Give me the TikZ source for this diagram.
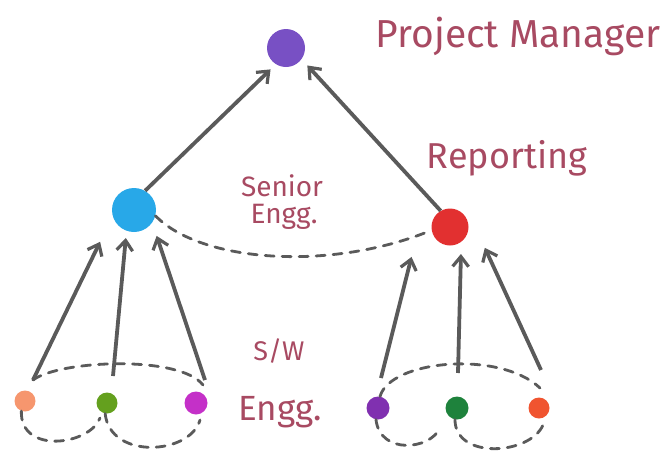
\documentclass[tikz,border=0pt]{standalone}
\usepackage{fontspec}
\setmainfont{Fira Sans}
\usetikzlibrary{arrows.meta}
\definecolor{txt}{HTML}{A84A62}
\definecolor{ln}{HTML}{5A5A5A}
\tikzset{
  dot/.style={circle, inner sep=0pt, minimum size=#1},
  arr/.style={ln, line width=3.8pt, -{Straight Barb[length=10pt,width=16pt,line width=3.2pt]}, shorten >=2pt},
  dsh/.style={ln, line width=2.8pt, dash pattern=on 9pt off 8pt, line cap=round},
  lbl/.style={txt, font=\fontsize{#1}{#1}\selectfont, inner sep=0pt}
}
\begin{document}
\begin{tikzpicture}[x=1pt,y=-1pt]
\useasboundingbox (0,0) rectangle (667,461);
% dots
\node[dot=38pt, fill={rgb,255:red,120;green,80;blue,196}] (pm) at (286,48) {};
\node[dot=44pt, fill={rgb,255:red,40;green,168;blue,232}] (se) at (134,210) {};
\node[dot=37pt, fill={rgb,255:red,226;green,48;blue,48}] (rp) at (450,227) {};
\node[dot=21pt, fill={rgb,255:red,246;green,150;blue,110}] (a1) at (25,401) {};
\node[dot=21pt, fill={rgb,255:red,100;green,160;blue,30}] (a2) at (107,403) {};
\node[dot=23pt, fill={rgb,255:red,196;green,48;blue,200}] (a3) at (196,403) {};
\node[dot=23pt, fill={rgb,255:red,128;green,48;blue,176}] (b1) at (378,408) {};
\node[dot=23pt, fill={rgb,255:red,30;green,130;blue,60}] (b2) at (457,408) {};
\node[dot=21pt, fill={rgb,255:red,240;green,84;blue,48}] (b3) at (539,408) {};
% texts
\node[lbl=39] (tpm) at (518,36) {Project Manager};
\node[lbl=36] (trp) at (507,158) {Reporting};
\node[lbl=28] (tse1) at (282,186) {Senior};
\node[lbl=28] (tse2) at (284,217) {Engg.};
\node[lbl=27] (tsw) at (279,351) {S/W};
\node[lbl=35] (teg) at (280,412) {Engg.};
% coordinates for arrow starts
\coordinate (s1) at (33,380);
\coordinate (s2) at (113,376);
\coordinate (s3) at (205,380);
\coordinate (r1) at (381,378);
\coordinate (r2) at (458,373);
\coordinate (r3) at (541,370);
\coordinate (e1) at (101,240);
\coordinate (e2) at (126,236);
\coordinate (e3) at (156,234);
\coordinate (f1) at (412,255);
\coordinate (f2) at (461,252);
\coordinate (f3) at (484,246);
\coordinate (p1) at (272,68);
\coordinate (p2) at (306,64);
% arrows
\draw[arr] (se.60) -- (p1);
\draw[arr] (rp.120) -- (p2);
\draw[arr] (s1) -- (e1);
\draw[arr] (s2) -- (e2);
\draw[arr] (s3) -- (e3);
\draw[arr] (r1) -- (f1);
\draw[arr] (r2) -- (f2);
\draw[arr] (r3) -- (f3);
% dashed link senior - reporting
\draw[dsh] (se.-15) .. controls (200,262) and (330,272) .. (rp.190);
% dashed loops left
\draw[dsh] (s1) .. controls (60,360) and (180,355) .. (203,385);
\draw[dsh] (a1.-110) .. controls (20,455) and (90,445) .. (100,418);
\draw[dsh] (a2.-100) .. controls (110,460) and (190,455) .. (200,420);
% dashed loops right
\draw[dsh] (b1.80) .. controls (390,360) and (500,350) .. (540,388);
\draw[dsh] (b1.-100) .. controls (380,455) and (430,450) .. (440,428);
\draw[dsh] (b2.-100) .. controls (455,460) and (530,455) .. (543,425);
\end{tikzpicture}
\end{document}
